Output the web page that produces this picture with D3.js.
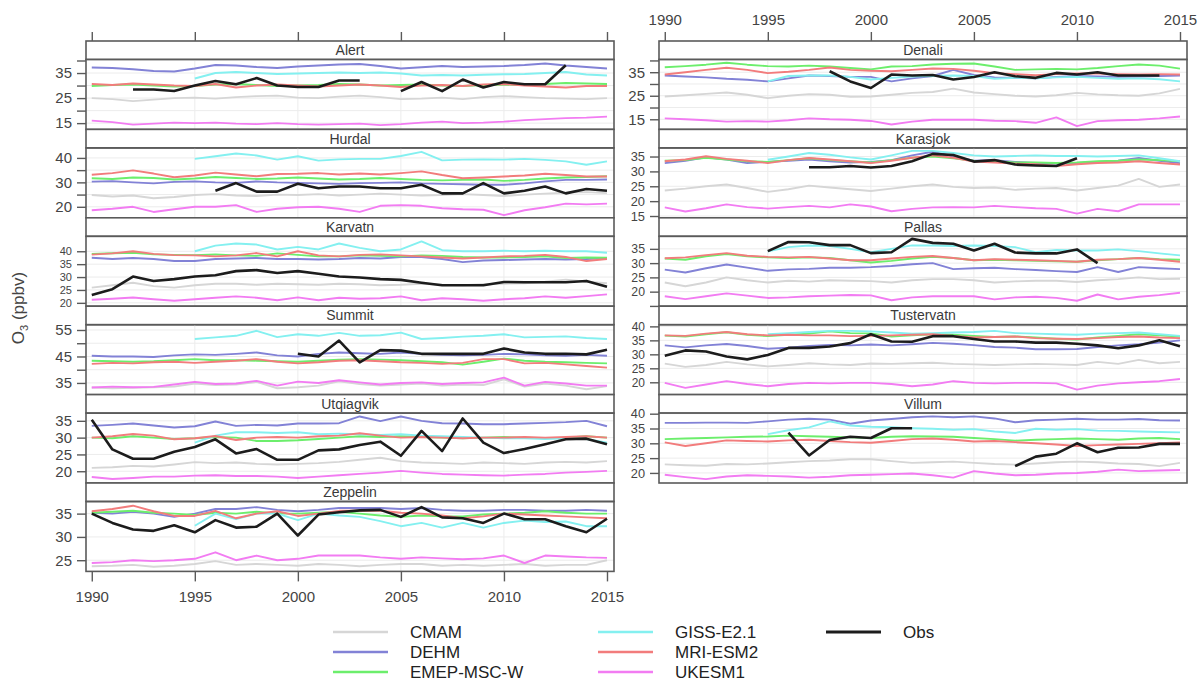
<!DOCTYPE html>
<html>
<head>
<meta charset="utf-8">
<script src="https://cdn.jsdelivr.net/npm/d3@7"></script>
<style>
  body { margin: 0; background: #fff; }
  svg { display: block; font-family: "Liberation Sans", Arial, sans-serif; }
</style>
</head>
<body>
<svg id="chart" width="1203" height="690"></svg>
<script>
// years on the x axis
const years = d3.range(1990, 2016);

// panels: first six in the left column, the rest in the right column
const stations = ["Alert", "Hurdal", "Karvatn", "Summit", "Utqiagvik", "Zeppelin",
    "Denali", "Karasjok", "Pallas", "Tustervatn", "Villum"];

// y range, tick marks and labelled ticks of every panel (same order as stations)
const yDomains = [[12.5, 40.4], [15.5, 44.1], [18.7, 45.8], [30.6, 57], [16.5, 37.3], [22.6, 37.6],
    [10.7, 40.4], [14.4, 37.9], [14.9, 39.4], [15.6, 40.6], [16.6, 40.2]];
const yTicks = [[15, 20, 25, 30, 35, 40], [20, 25, 30, 35, 40], [20, 25, 30, 35, 40], [35, 40, 45, 50, 55],
    [20, 25, 30, 35], [25, 30, 35], [15, 20, 25, 30, 35, 40], [15, 20, 25, 30, 35], [15, 20, 25, 30, 35],
    [20, 25, 30, 35, 40], [20, 25, 30, 35, 40]];
const yLabels = [[15, 25, 35], [20, 30, 40], [20, 25, 30, 35, 40], [35, 45, 55], [20, 25, 30, 35], [25, 30, 35],
    [15, 25, 35], [15, 20, 25, 30, 35], [20, 25, 30, 35], [20, 25, 30, 35, 40], [20, 25, 30, 35, 40]];

const xTicks = [1990, 1995, 2000, 2005, 2010, 2015];

// O3 (ppbv) per series, one row per station, 1990..2015
const CMAM = [
    [25, 24.6, 23.8, 24.4, 25, 25.2, 24.8, 25.4, 25.8, 26, 25.2, 25, 25.6, 26, 25.4, 24.6, 24.8, 25.2, 24.6, 25.4, 25.8, 25.4, 25, 24.8, 24.6, 25],
    [24.8, 24.2, 24.6, 23.5, 24, 24.8, 25.2, 24.6, 24.4, 25, 24.8, 25.2, 24.6, 25, 25.4, 25, 24.6, 24.8, 25.2, 24.8, 24.4, 25, 25.4, 25.8, 26, 25.6],
    [25.9, 26.8, 27.8, 26.5, 25.9, 26.8, 27.4, 27.4, 27, 27.4, 27.2, 27, 27.4, 27.2, 26.8, 27, 27.4, 27, 26.8, 27.2, 27.4, 27.6, 28.2, 29, 28.2, 27.6],
    [33.3, 33, 33.2, 33.4, 33.6, 34.8, 34.2, 34.4, 35.4, 33, 33.4, 34, 35.6, 34.6, 34, 34.4, 34.8, 34, 34.4, 34.2, 36.4, 33.6, 34.8, 34, 32.6, 33.8],
    [21, 21.2, 21.6, 21.4, 22, 22.7, 22.4, 22.6, 22.2, 22, 22.2, 22.4, 22.8, 23.4, 24, 23, 22.6, 22.4, 22.2, 22.6, 22.4, 22.2, 22.6, 22.8, 22.6, 23],
    [23.7, 23.8, 24, 23.6, 23.8, 24.2, 24.8, 24, 24.2, 24, 23.8, 24.2, 24, 23.7, 24, 24.2, 24.2, 23.8, 24, 23.8, 24, 24.2, 23.8, 24, 24, 25],
    [24.7, 25.2, 25.8, 26.4, 25.4, 24, 25, 25.7, 25.4, 24.6, 24.7, 25.4, 26.2, 26.6, 28, 26.4, 25.7, 25, 24.7, 25.2, 26.2, 25.6, 25.2, 25, 26, 27.9],
    [23.6, 24.2, 25, 25.6, 24.4, 23.1, 24, 25.2, 24.6, 24, 23.4, 24.2, 25, 25.6, 24.8, 24.4, 24.6, 23.8, 24.2, 24.4, 23.6, 24.4, 25.2, 27.5, 24.8, 25.6],
    [23.2, 21.9, 23.2, 25, 24, 23.2, 23.8, 23.5, 24, 23.8, 23.7, 23.2, 24, 24.4, 24.4, 24, 23.2, 23.6, 23.8, 23.8, 23.4, 24, 24.4, 25, 24.4, 24.5],
    [26.7, 25.5, 26.2, 27.3, 26.4, 25.7, 26.2, 26.8, 26.4, 26.2, 26.7, 26.6, 26.8, 27, 26.6, 26.4, 26.2, 26.4, 26.6, 26.4, 26.2, 27.3, 26.6, 28, 26.8, 27.3],
    [22.9, 22.6, 22.4, 23, 22.9, 23.2, 23.6, 24, 24.2, 24.6, 24.6, 24, 23.4, 23.6, 23.8, 23.4, 23, 22.8, 23.2, 23.6, 23.8, 23.6, 23.2, 23, 22.3, 23.4]
];
const DEHM = [
    [37.2, 37, 36.5, 35.8, 35.6, 36.8, 38.2, 38, 37.4, 37, 37.6, 38, 38.4, 38.6, 37.8, 36.8, 37.3, 37.8, 37.4, 37.6, 37.8, 38.2, 38.8, 38, 37.4, 36.8],
    [30.3, 30.5, 30, 29.6, 30.2, 30.4, 30, 29.8, 30.4, 30, 29.8, 29.6, 29.4, 29.7, 29.8, 30, 29.6, 29.4, 29.2, 29, 29, 29.6, 30.4, 31, 31, 31.2],
    [37.5, 37, 37.4, 37, 36.2, 36.2, 37, 37.2, 37.4, 37, 37, 36.8, 37, 37.4, 37.2, 37.8, 37.8, 37, 35.8, 36.4, 36.6, 36.8, 37, 36.8, 37, 37.4],
    [45.3, 45, 45, 44.8, 45.4, 45.8, 45.6, 46, 46.5, 45.4, 45, 46, 46.5, 46.2, 46, 46.5, 46, 45.6, 45.4, 45.6, 46, 45.8, 45.4, 45.3, 45.6, 45.3],
    [33.5, 33.8, 34.2, 33.6, 33, 33.4, 34.8, 33.5, 33.8, 33.6, 34.2, 34.2, 34.3, 36.3, 34.9, 36.3, 35, 34.3, 34.2, 34, 34, 34.2, 34.4, 34.6, 35, 33.4],
    [35.2, 35, 35.4, 35, 34.3, 35, 36, 36, 36.4, 35.8, 35.5, 35.8, 36.2, 36.2, 36.2, 36, 36.2, 35.8, 35.6, 35.6, 35.8, 35.8, 35.6, 35.6, 35.8, 35.6],
    [33.6, 33.2, 32.8, 32.2, 31.8, 31.1, 32.4, 33.6, 33.4, 33, 33, 31.1, 32.4, 33.4, 36, 33.8, 32.8, 32.6, 32.4, 33, 33.4, 33.2, 33, 33.2, 33.4, 33.6],
    [32.8, 33.6, 34.7, 34, 32.8, 33.2, 33.6, 34, 33.4, 33, 33.2, 33.8, 35.4, 36.6, 35, 33.6, 33.8, 33.2, 32.8, 32.6, 32.8, 33.2, 33.6, 34.5, 33.6, 32.8],
    [27.7, 26.7, 28.2, 29.5, 28.4, 27.3, 27.8, 28, 28.4, 28.4, 28.6, 29, 29.6, 30, 27.9, 28.2, 28.4, 27.9, 27.6, 27.2, 26.9, 28.6, 26.9, 28.6, 28.2, 27.9],
    [33.2, 32.5, 33.2, 33.7, 33, 32, 32.4, 33, 33.4, 33.2, 33.5, 33.2, 33.6, 34.1, 33.8, 33.3, 32.6, 32.4, 31.8, 31.8, 31.9, 32.6, 33.2, 33.6, 34.2, 35],
    [36.9, 36.9, 37, 37, 36.9, 37.4, 38, 38.3, 38, 36.6, 37.7, 38.2, 38.8, 39.1, 38.8, 39.1, 38.4, 37.1, 37.8, 38, 38.3, 38, 38, 38.2, 37.8, 37.7]
];
const EMEP = [
    [29.8, 30.2, 30.4, 30, 29.6, 29.8, 30.4, 30.6, 30.2, 29.8, 30, 30.2, 30.6, 30.4, 30, 30.2, 30.4, 30, 29.8, 30.2, 30.4, 30.2, 30.6, 31, 30.8, 30.6],
    [31.7, 31.4, 32, 31.8, 31.2, 31.6, 32.2, 31.8, 31.4, 31.6, 32, 31.6, 31.2, 31.4, 31.8, 31.4, 31, 30.8, 31, 31.2, 30.6, 31, 31.6, 32, 32.2, 32.5],
    [39, 39.2, 39.4, 38.8, 38.6, 38.5, 38.8, 38.4, 38.2, 39.2, 38.6, 38, 38, 38.4, 38.2, 38, 38.4, 38.2, 37.8, 37.6, 37.6, 37.8, 38, 37.4, 37.6, 37.5],
    [43.4, 43.2, 43, 43.2, 43.6, 44, 43.6, 43.6, 43.4, 43.2, 43, 43.4, 43.8, 44, 43.8, 43.6, 43.2, 42.8, 41.9, 43, 44.2, 43.4, 43, 42.8, 42.6, 42.4],
    [30, 29.8, 30.4, 30, 29.6, 29.8, 30.2, 30, 29, 29, 29.2, 29.6, 30, 30.4, 30.2, 30.4, 30.2, 30, 29.8, 30, 30.2, 30, 29.8, 30, 30.4, 30],
    [35.2, 35.4, 35.6, 35.2, 35, 34.7, 35.2, 35, 35.4, 35, 35, 35.2, 35.4, 35, 34.6, 34.3, 34.6, 34.4, 34.4, 34.8, 35, 35.2, 35.5, 35.2, 35, 35],
    [37.1, 37.6, 38.2, 39, 38.2, 37.6, 37.4, 37.8, 37.4, 36.8, 36.2, 37.4, 37.6, 38.3, 38.6, 38.7, 37.4, 36, 36.2, 36.4, 36.2, 36.8, 37.6, 38.3, 37.8, 36.5],
    [33.6, 33.8, 34.6, 34, 33.4, 33.2, 33.8, 34.4, 33.8, 33.4, 33, 33.8, 34.6, 35, 34.4, 33.6, 33.4, 33, 33, 32.8, 33, 33.4, 33.6, 34, 33.8, 33.4],
    [31.6, 31.2, 32.4, 33.2, 32.4, 32, 31.8, 32, 31.8, 31, 30.2, 30.8, 31.6, 32.2, 31.8, 31, 31.2, 31, 30.8, 30.6, 30.5, 31, 31.4, 31.8, 31.4, 31.2],
    [36.7, 36.4, 37.2, 37.9, 37, 36.5, 37, 37.4, 38.2, 37.6, 37.5, 36.4, 36.8, 37.2, 37, 36.6, 36.2, 36.4, 36, 35.6, 35.3, 36, 36.6, 37.2, 36.8, 36.4],
    [31.4, 31.6, 31.8, 32, 32.2, 32.3, 32.6, 32.4, 32.2, 32, 31.8, 32.2, 32.4, 32.3, 32.2, 31.8, 31.4, 30.9, 31.2, 31.4, 31.6, 31.4, 31.2, 31.6, 31.8, 31.4]
];
const GISS = [
    [null, null, null, null, null, 32.8, 35, 35.4, 35, 34.6, 34.8, 35, 35.2, 35, 35.2, 34.8, 34, 34.2, 34, 34.3, 34.5, 34.6, 35, 35.4, 34.4, 34],
    [null, null, null, null, null, 39.6, 40.7, 41.8, 41, 39.3, 40.7, 38.9, 39.4, 39.6, 39.6, 40.8, 42.5, 39, 39.3, 39.4, 39.3, 39.6, 39.2, 38.6, 37.2, 38.6],
    [null, null, null, null, null, 40, 42.2, 43, 42.6, 40.7, 41.7, 40.7, 43, 41.3, 40, 40.7, 43.8, 40.4, 40, 40, 40.2, 40, 40.2, 40, 40, 39.4],
    [null, null, null, null, null, 51.6, 52.2, 52.8, 54.7, 52.3, 53.4, 52.8, 53.9, 52.8, 53, 54, 51.6, 52, 52.5, 52.8, 53.4, 52.2, 52.4, 52.6, 52, 51.6],
    [null, null, null, null, null, 28.5, 30.6, 31.6, 31.6, 31.4, 31.6, 31, 31.2, 31, 30.8, 31, 30.6, 30.4, 30.2, 30, 29.8, 29.8, 29.6, 29.8, 29.6, 28.5],
    [null, null, null, null, null, 32.4, 35, 33.8, 35, 35, 33.6, 35, 34.6, 34.3, 33.4, 32.3, 33, 32, 33, 32, 33, 33.5, 33.2, 33.3, 32.3, 32.3],
    [null, null, null, null, null, 31.1, 33.4, 33.6, 33.6, 33, 31.9, 32.6, 33.2, 33.4, 33.6, 33.4, 32.2, 32.6, 32.4, 32.8, 33, 32.6, 32.2, 32.4, 32, 31.1],
    [null, null, null, null, null, 33.9, 35, 36.2, 35.6, 34.7, 34, 35.4, 36.9, 36.9, 36.2, 35.4, 35, 35.2, 35.4, 35.2, 35.2, 35, 35.2, 35.4, 34.4, 33.4],
    [null, null, null, null, null, 34.1, 35.6, 36.2, 36, 35, 33.8, 35, 36.2, 36.2, 36, 36.2, 36, 35.6, 33.8, 34.6, 34.4, 34.4, 34.8, 34.2, 33.4, 32.7],
    [null, null, null, null, null, 37.2, 37.6, 38, 38.4, 38.4, 38.2, 37.8, 37.4, 37.6, 37.8, 38, 38.4, 37.6, 37.4, 37.2, 37, 37.4, 37.6, 37.8, 37.2, 36.6],
    [null, null, null, null, null, 33.1, 34.4, 35.4, 37.4, 36, 35.6, 35.4, 35.1, 34.9, 34.6, 34.8, 34, 33.5, 34.9, 34.6, 34.8, 34.3, 34.2, 34, 33.8, 33.7]
];
const MRI = [
    [30.6, 30.2, 30.8, 30.4, 30, 29.8, 30.6, 29.2, 30, 30.4, 30, 29.6, 30, 30.4, 30, 29.4, 30, 30.2, 29.8, 30.4, 30.6, 30, 29.6, 29.2, 29.8, 29.8],
    [33.1, 33.8, 34.9, 33.6, 32.1, 32.8, 34, 33.2, 32.5, 33.4, 33.5, 33.8, 33.2, 33.6, 33.2, 33.8, 34.5, 33, 31.7, 32, 32.4, 32.8, 33.5, 33, 32.4, 32.4],
    [38.7, 39.2, 40, 39, 38.5, 38.4, 38, 38.4, 39.3, 38, 40, 38.4, 38, 38.6, 38.8, 38.4, 38, 37.6, 37.2, 37.6, 38, 38.2, 38.6, 37.8, 36.2, 37],
    [42.2, 42.6, 42.4, 42.8, 43, 42.6, 43, 43.4, 44, 43, 42.4, 42.8, 43.4, 43.6, 43.2, 42.8, 42.6, 42.2, 42.6, 44, 44, 42.4, 42.6, 42, 41.4, 40.8],
    [30, 30.4, 31.1, 30.6, 29.5, 29.8, 30.5, 29.3, 30, 30.2, 30, 30.4, 30.6, 31.3, 30.6, 30, 30.2, 30, 29.8, 30, 30, 30.2, 30, 30.2, 30.4, 30],
    [35.5, 36, 36.7, 35.5, 34.5, 34.5, 35.6, 34, 35, 35.5, 34.5, 35, 35.6, 35.6, 35.6, 35.2, 35, 34.6, 34, 34.4, 35, 34.8, 34.6, 34.4, 34.2, 34],
    [34, 35, 36, 36.9, 36, 34.6, 35.2, 36, 37, 36, 35.6, 35.4, 36, 36.6, 36.4, 35.6, 34.6, 34.2, 33.7, 34.2, 34.5, 34.4, 34.2, 34, 34.2, 34],
    [33.4, 34, 35.1, 34.2, 33.6, 32.8, 33.8, 34.5, 34, 33.4, 32.8, 33.6, 34.6, 35.4, 34.6, 33.3, 33, 32.6, 32.4, 31.8, 32.4, 32.8, 33, 33.4, 32.8, 32.3],
    [31.7, 32, 32.8, 33.5, 32.6, 32.2, 32, 32.2, 31.6, 31, 31, 31.6, 32.2, 32.5, 31.8, 31, 31.4, 31.2, 31, 30.8, 30.5, 31.2, 31.4, 31.8, 31.2, 30.5],
    [36.8, 36.6, 37.4, 38, 37.2, 36.8, 37, 36.8, 36.8, 36.5, 36.6, 36.8, 37, 37.2, 36.6, 36, 36.2, 36.4, 35.8, 35.6, 35.5, 35.8, 36.2, 36.4, 36, 35.8],
    [30.3, 29.1, 30, 31, 30.8, 30.6, 31, 31.2, 30.8, 30.4, 30.2, 30.8, 31.4, 31.6, 31.2, 30.6, 30.8, 30.4, 30, 29.6, 29.1, 29.4, 29.6, 29.8, 30, 30.3]
];
const UKESM = [
    [16, 15.4, 14.4, 14.8, 15.2, 15, 15.2, 14.8, 14.6, 15, 14.6, 14.4, 14.6, 14.8, 14.2, 14.6, 15.2, 15.6, 15, 15.2, 15.6, 16.2, 16.6, 17, 17.2, 17.6],
    [18.6, 19.2, 20, 17.9, 19, 20, 20, 20.7, 17.9, 19.2, 19.8, 20, 19.2, 17.9, 20.4, 20.7, 20.4, 19.4, 19, 18.8, 16.6, 18.6, 19.8, 21.3, 21, 21.3],
    [21.2, 21.6, 22.1, 21.4, 20.8, 21.4, 22, 22.5, 22, 21, 22.1, 21, 22, 21.6, 21.8, 22.5, 21, 21.8, 21.4, 20.8, 21.4, 21.8, 22.5, 22, 22.6, 23.3],
    [33.3, 33.6, 33.4, 33.5, 34.4, 35.4, 34.6, 34.8, 35.8, 34, 35.5, 35, 36, 35.2, 34.4, 35, 35.2, 34.6, 35, 35.2, 37, 34, 35.4, 34.8, 34, 34],
    [18.3, 17.7, 18, 18.4, 18.4, 18.7, 18.8, 18.6, 18.6, 18.4, 18, 18.4, 18.8, 19.2, 19.6, 20.1, 19.6, 19.2, 19, 18.8, 18.7, 19, 19.2, 19.6, 19.8, 20.1],
    [24.4, 24.6, 25, 24.8, 25, 25.3, 26.7, 25, 26, 25, 25.3, 26, 26, 26, 25.6, 25.3, 25.6, 25.4, 25.2, 25.4, 26, 24.4, 26, 25.8, 25.6, 25.5],
    [15.4, 15, 14.6, 14, 14.2, 14, 14.6, 15.4, 15, 14.8, 14.3, 12.8, 14, 14.8, 14.8, 14.8, 14.4, 14.2, 13.5, 15.8, 12.1, 14.2, 14.6, 14.8, 15.4, 16.2],
    [17.9, 16.5, 17.6, 18.9, 18, 17.5, 18, 18.4, 17.9, 18.9, 18.2, 16.6, 17.4, 17.9, 18, 17.9, 18.4, 18, 17.6, 17.4, 15.8, 17.4, 16.6, 18.9, 18.9, 18.9],
    [18.4, 17.4, 18.4, 19.4, 18.6, 17.8, 18, 18.4, 18.6, 18.8, 18.7, 17, 18, 18.4, 18.4, 18.4, 17.3, 18, 18.2, 17.8, 16.8, 19, 17.3, 18.2, 18.8, 19.6],
    [19.8, 18, 19.2, 20.4, 19.4, 18.6, 19.4, 19.8, 19.6, 19.8, 19.8, 19.4, 18.6, 19.2, 20.4, 19.8, 19.6, 19.8, 19.8, 19.6, 17.4, 18.8, 19.6, 20, 20.4, 21.2],
    [19.4, 18.6, 17.9, 18.8, 19.2, 19, 18.8, 18.4, 18.7, 19.2, 19.4, 19.6, 19.8, 19.2, 18.4, 20.6, 19.8, 19.2, 19.4, 19.8, 20, 20.4, 21.1, 20.6, 20.8, 21]
];
const Obs = [
    [null, null, 28.4, 28.4, 27.8, 30, 31.8, 30.5, 33, 30, 29.4, 29.4, 32, 32, null, 27.8, 31.4, 27.8, 32.4, 29.2, 31.4, 30.5, 30.5, 38.1, null, null],
    [null, null, null, null, null, null, 26.6, 29.7, 26.2, 26.2, 29.4, 27.6, 28.3, 28.3, 27.6, 27.6, 29, 25.5, 25.5, 29.7, 25.5, 26.6, 28.3, 25.5, 27.3, 26.6],
    [23, 25.3, 30.2, 28.5, 29.2, 30.2, 30.7, 32.3, 32.7, 31.6, 32.3, 31.3, 30.2, 29.8, 29.2, 28.9, 27.8, 26.8, 26.8, 26.8, 28.1, 28, 28, 28, 28.5, 26.2],
    [null, null, null, null, null, null, null, null, null, null, 46, 45, 51, 42.8, 47.4, 47.2, 46, 46, 46, 46, 48, 46.5, 46, 46, 45.8, 47.5],
    [35.3, 26.5, 23.7, 23.7, 25.8, 27.2, 29.5, 25.3, 26.6, 23.4, 23.4, 26.2, 26.5, 27.8, 28.8, 24.6, 32, 26, 35.7, 28.5, 25.4, 26.6, 28, 29.5, 29.7, 28],
    [35, 33, 31.6, 31.3, 32.5, 31, 33.6, 32, 32.2, 35, 30.3, 34.8, 35.3, 35.7, 35.8, 34.3, 36.4, 34.2, 34, 33, 35, 33.8, 33.8, 32.3, 31, 33.9],
    [null, null, null, null, null, null, null, null, 35.4, 31.1, 28.3, 34, 33.6, 33.8, 31.9, 33, 35, 33.3, 32.6, 34.7, 34, 35, 33.6, 33.6, 33.6, null],
    [null, null, null, null, null, null, null, 31.4, 31.4, 31.8, 31.3, 31.8, 33.4, 35.9, 35.5, 33.3, 33.8, 32.3, 32, 31.8, 34.4, null, null, null, null, null],
    [null, null, null, null, null, 34.2, 37.4, 37.3, 36.3, 36.3, 33.5, 33.8, 38.5, 37.1, 36.8, 34.4, 36.8, 33.7, 33.4, 33.4, 34.8, 30, null, null, null, null],
    [29.5, 31.4, 31, 29.2, 28.2, 29.8, 32.3, 32.3, 32.8, 34, 37.2, 34.6, 34.5, 36.5, 36.5, 35.5, 34.6, 34.6, 34.2, 34.2, 33.8, 33.2, 32.2, 33.2, 35, 32.9],
    [null, null, null, null, null, null, 33.6, 25.9, 31.1, 32.2, 31.8, 35.1, 35.1, null, null, null, null, 22.3, 25.5, 26.5, 30, 27, 28.5, 28.6, 29.8, 29.8]
];

const seriesNames = ["CMAM", "DEHM", "EMEP-MSC-W", "GISS-E2.1", "MRI-ESM2", "UKESM1", "Obs"];
const seriesData = [CMAM, DEHM, EMEP, GISS, MRI, UKESM, Obs];
const seriesColors = ["#d6d6d6", "#8282d6", "#6cee6c", "#84f0f0", "#f27c7c", "#f27cf2", "#1c1c1c"];

// layout
const colX = [86, 659];
const panelW = 528;
const top0 = 41;
const slot = 88.4;
const stripH = 18.5;
const frameColor = "#5a5a5a";
const textColor = "#444";

const svg = d3.select("#chart");

const x = d3.scaleLinear().domain([1989.72, 2015.34]).range([0, panelW]);

stations.forEach((name, i) => {
    const col = i < 6 ? 0 : 1;
    const row = i < 6 ? i : i - 6;
    const px = colX[col];
    const py = top0 + row * slot;
    const plotH = slot - stripH;

    const g = svg.append("g").attr("transform", `translate(${px},${py})`);

    // strip
    g.append("rect")
        .attr("width", panelW).attr("height", stripH)
        .attr("fill", "#fff").attr("stroke", frameColor).attr("stroke-width", 1.6);
    g.append("text")
        .attr("x", panelW / 2).attr("y", stripH / 2 + 5)
        .attr("text-anchor", "middle")
        .attr("font-size", 14).attr("fill", "#3a3a3a")
        .text(name);

    const plot = g.append("g").attr("transform", `translate(0,${stripH})`);
    const y = d3.scaleLinear().domain(yDomains[i]).range([plotH, 0]);

    // grid
    plot.append("g").selectAll("line").data([1995, 2000, 2005, 2010]).join("line")
        .attr("x1", d => x(d)).attr("x2", d => x(d))
        .attr("y1", 0).attr("y2", plotH)
        .attr("stroke", "#ececec").attr("stroke-width", 1);
    plot.append("g").selectAll("line").data(yTicks[i]).join("line")
        .attr("x1", 0).attr("x2", panelW)
        .attr("y1", d => y(d)).attr("y2", d => y(d))
        .attr("stroke", "#ececec").attr("stroke-width", 1);

    // series
    const line = d3.line()
        .defined(d => d[1] != null)
        .x(d => x(d[0]))
        .y(d => y(d[1]));

    seriesData.forEach((s, k) => {
        const pts = years.map((yr, j) => [yr, s[i][j]]);
        plot.append("path")
            .datum(pts)
            .attr("d", line)
            .attr("fill", "none")
            .attr("stroke", seriesColors[k])
            .attr("stroke-width", k === 6 ? 2.6 : 1.9)
            .attr("stroke-linejoin", "round");
    });

    plot.append("rect")
        .attr("width", panelW).attr("height", plotH)
        .attr("fill", "none").attr("stroke", frameColor).attr("stroke-width", 1.6);

    // y axis; labels get smaller where the labelled ticks sit close together
    const labelled = new Set(yLabels[i]);
    const step = Math.abs(y(yLabels[i][1]) - y(yLabels[i][0]));
    const fs = step < 15.5 ? Math.max(11, step - 2) : 15;
    const yAxis = d3.axisLeft(y)
        .tickValues(yTicks[i])
        .tickFormat(d => labelled.has(d) ? d : "")
        .tickSize(9)
        .tickPadding(5);
    const ya = plot.append("g").call(yAxis);
    ya.select(".domain").remove();
    ya.selectAll(".tick line").attr("stroke", frameColor).attr("stroke-width", 1.4);
    ya.selectAll(".tick text")
        .attr("font-size", fs).attr("fill", textColor)
        .attr("font-family", "Liberation Sans, Arial, sans-serif");
});

// x axes: left column has ticks on top and labels at the bottom,
// right column has labelled ticks on top
function xAxisGroup(axis, tx, ty, showLabels) {
    const a = svg.append("g").attr("transform", `translate(${tx},${ty})`).call(axis);
    a.select(".domain").remove();
    a.selectAll(".tick line").attr("stroke", frameColor).attr("stroke-width", 1.4);
    a.selectAll(".tick text")
        .attr("font-size", 15).attr("fill", textColor)
        .attr("font-family", "Liberation Sans, Arial, sans-serif")
        .style("display", showLabels ? null : "none");
}

xAxisGroup(d3.axisTop(x).tickValues(xTicks).tickFormat(d3.format("d")).tickSize(9), colX[0], top0, false);
xAxisGroup(d3.axisBottom(x).tickValues(xTicks).tickFormat(d3.format("d")).tickSize(10).tickPadding(10),
    colX[0], top0 + 6 * slot, true);
xAxisGroup(d3.axisTop(x).tickValues(xTicks).tickFormat(d3.format("d")).tickSize(9).tickPadding(7),
    colX[1], top0, true);

// y axis title
const yTitle = svg.append("text")
    .attr("transform", "translate(24,308) rotate(-90)")
    .attr("text-anchor", "middle")
    .attr("font-size", 17).attr("fill", textColor);
yTitle.append("tspan").text("O");
yTitle.append("tspan").attr("font-size", 11).attr("dy", 4).text("3");
yTitle.append("tspan").attr("dy", -4).text(" (ppbv)");

// legend
const legendPos = [
    [333, 632], [333, 652], [333, 672],
    [598, 632], [598, 652], [598, 672],
    [826, 632]
];
const legend = svg.append("g");
seriesNames.forEach((name, k) => {
    const [lx, ly] = legendPos[k];
    legend.append("line")
        .attr("x1", lx).attr("x2", lx + 55)
        .attr("y1", ly).attr("y2", ly)
        .attr("stroke", seriesColors[k])
        .attr("stroke-width", k === 6 ? 3 : 2.6);
    legend.append("text")
        .attr("x", lx + 77).attr("y", ly + 6)
        .attr("font-size", 17).attr("fill", "#222")
        .text(name);
});
</script>
</body>
</html>
